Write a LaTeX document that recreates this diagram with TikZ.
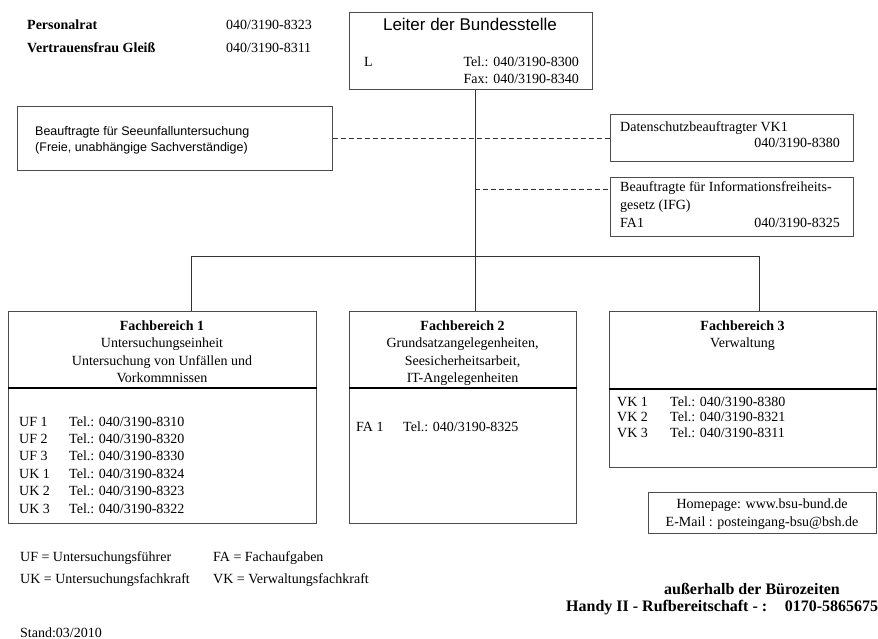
\documentclass[tikz,border=0pt]{standalone}
\usepackage{fontspec}
\setmainfont{Liberation Serif}
\setsansfont{Liberation Sans}
\usepackage{tikz}
\usetikzlibrary{positioning,calc}

\tikzset{
  kasten/.style={draw=black!70, line width=0.8pt, inner sep=0pt, anchor=north west},
  linie/.style={draw=black!80, line width=0.8pt},
  strich/.style={linie, dash pattern=on 5pt off 3pt},
  trenn/.style={draw=black, line width=1.6pt},
  txt/.style={inner sep=0pt, font=\fontsize{14}{17}\selectfont},
  fett/.style={inner sep=0pt, font=\bfseries\fontsize{14}{17}\selectfont},
  ruf/.style={inner sep=0pt, font=\bfseries\fontsize{16}{19}\selectfont},
  sans/.style={inner sep=0pt, font=\sffamily\fontsize{12.5}{15}\selectfont},
}

\begin{document}
\begin{tikzpicture}[x=1pt,y=-1pt]
  \useasboundingbox (0,0) rectangle (878,639);

  % Personalrat, Vertrauensfrau
  \node[fett, anchor=base west] (personal) at (27,30) {Personalrat};
  \node[fett, anchor=base west] (vertrauen) at (27,53) {Vertrauensfrau Gleiß};
  \node[txt, anchor=base west] (personaltel) at (226,30) {040/3190-8323};
  \node[txt, anchor=base west] (vertrauentel) at (226,53) {040/3190-8311};

  % Leiter
  \node[kasten, minimum width=243pt, minimum height=77pt] (leiter) at (349,12) {};
  \node[inner sep=0pt, font=\sffamily\fontsize{17}{20}\selectfont, anchor=base] (leitertitel) at (470,31) {Leiter der Bundesstelle};
  \node[txt, anchor=base west] (leiterL) at (364,67) {L};
  \node[txt, anchor=base east] (leitertel) at (579,67) {Tel.: 040/3190-8300};
  \node[txt, anchor=base east] (leiterfax) at (579,84) {Fax: 040/3190-8340};

  % Stabsstellen
  \node[kasten, minimum width=315pt, minimum height=64pt] (seeunfall) at (17,106) {};
  \node[sans, anchor=base west] (seeunfall1) at (35,135.5) {Beauftragte für Seeunfalluntersuchung};
  \node[sans, anchor=base west] (seeunfall2) at (35,151.5) {(Freie, unabhängige Sachverständige)};

  \node[kasten, minimum width=243pt, minimum height=47pt] (datenschutz) at (610,114) {};
  \node[txt, anchor=base west] (datenschutz1) at (620,132) {Datenschutzbeauftragter VK1};
  \node[txt, anchor=base east] (datenschutz2) at (840,148) {040/3190-8380};

  \node[kasten, minimum width=243pt, minimum height=59pt] (ifg) at (610,177) {};
  \node[txt, anchor=base west] (ifg1) at (620,192) {Beauftragte für Informationsfreiheits-};
  \node[txt, anchor=base west] (ifg2) at (620,210) {gesetz (IFG)};
  \node[txt, anchor=base west] (ifg3) at (620,228) {FA1};
  \node[txt, anchor=base east] (ifg4) at (840,228) {040/3190-8325};

  % Fachbereiche
  \node[kasten, minimum width=308pt, minimum height=212pt] (fb1) at (8,311) {};
  \node[kasten, minimum width=227pt, minimum height=212pt] (fb2) at (349,311) {};
  \node[kasten, minimum width=267pt, minimum height=156pt] (fb3) at (609,311) {};

  \draw[trenn] ($(fb1.north west)+(0,77)$) -- ($(fb1.north east)+(0,77)$);
  \draw[trenn] ($(fb2.north west)+(0,77)$) -- ($(fb2.north east)+(0,77)$);
  \draw[trenn] ($(fb3.north west)+(0,78)$) -- ($(fb3.north east)+(0,78)$);

  \node[fett, anchor=base] (fb1titel) at (162,330) {Fachbereich 1};
  \foreach \zeile [count=\i] in {Untersuchungseinheit, Untersuchung von Unfällen und, Vorkommnissen}
    \node[txt, anchor=base] (fb1z\i) at (162,330+17.5*\i) {\zeile};
  \node[fett, anchor=base] (fb2titel) at (462.5,330) {Fachbereich 2};
  \foreach \zeile [count=\i] in {{Grundsatzangelegenheiten,}, {Seesicherheitsarbeit,}, IT-Angelegenheiten}
    \node[txt, anchor=base] (fb2z\i) at (462.5,330+17.5*\i) {\zeile};
  \node[fett, anchor=base] (fb3titel) at (742.5,330) {Fachbereich 3};
  \node[txt, anchor=base] (fb3z1) at (742.5,347.5) {Verwaltung};

  % Telefonlisten
  \foreach \kurz/\tel [count=\i from 0] in {UF 1/8310, UF 2/8320, UF 3/8330, UK 1/8324, UK 2/8323, UK 3/8322} {
    \node[txt, anchor=base west] (fb1k\i) at (19,426+17.4*\i) {\kurz};
    \node[txt, anchor=base west] (fb1t\i) at (69,426+17.4*\i) {Tel.: 040/3190-\tel};
  }
  \node[txt, anchor=base west] (fb2k0) at (356,431) {FA 1};
  \node[txt, anchor=base west] (fb2t0) at (403,431) {Tel.: 040/3190-8325};
  \foreach \kurz/\tel [count=\i from 0] in {VK 1/8380, VK 2/8321, VK 3/8311} {
    \node[txt, anchor=base west] (fb3k\i) at (617,406+15.5*\i) {\kurz};
    \node[txt, anchor=base west] (fb3t\i) at (670,406+15.5*\i) {Tel.: 040/3190-\tel};
  }

  % Verbindungen
  \coordinate (knoten) at (475,256);  % Abzweig Mitte
  \coordinate (ab1) at (191,256);     % Abzweig links
  \coordinate (ab3) at (759,256);     % Abzweig rechts
  \coordinate (abzweig) at (475,189); % Abzweig IFG
  \draw[linie] (leiter.south -| knoten) -- (knoten);
  \draw[linie] (ab1) -- (ab3);
  \draw[linie] (ab1) -- (ab1 |- fb1.north);
  \draw[linie] (knoten) -- (knoten |- fb2.north);
  \draw[linie] (ab3) -- (ab3 |- fb3.north);
  \draw[strich] (seeunfall.east) -- (seeunfall.east -| datenschutz.west);
  \draw[strich] (abzweig) -- (abzweig -| ifg.west);

  % Kontakt
  \node[kasten, minimum width=228pt, minimum height=41pt] (kontakt) at (648,492) {};
  \node[txt, anchor=base] (kontakt1) at (762,508) {Homepage: www.bsu-bund.de};
  \node[txt, anchor=base] (kontakt2) at (762,526) {E-Mail : posteingang-bsu@bsh.de};

  % Legende
  \node[txt, anchor=base west] (leg1) at (20,561) {UF = Untersuchungsführer};
  \node[txt, anchor=base west] (leg2) at (213,561) {FA = Fachaufgaben};
  \node[txt, anchor=base west] (leg3) at (20,583) {UK = Untersuchungsfachkraft};
  \node[txt, anchor=base west] (leg4) at (213,583) {VK = Verwaltungsfachkraft};
  \node[ruf, anchor=base] (ruf1) at (752,594) {außerhalb der Bürozeiten};
  \node[ruf, anchor=base west] (ruf2) at (566,611) {Handy II - Rufbereitschaft - :\hspace{1.1em}0170-5865675};
  \node[txt, anchor=base west] (stand) at (20,637) {Stand:03/2010};
\end{tikzpicture}
\end{document}
